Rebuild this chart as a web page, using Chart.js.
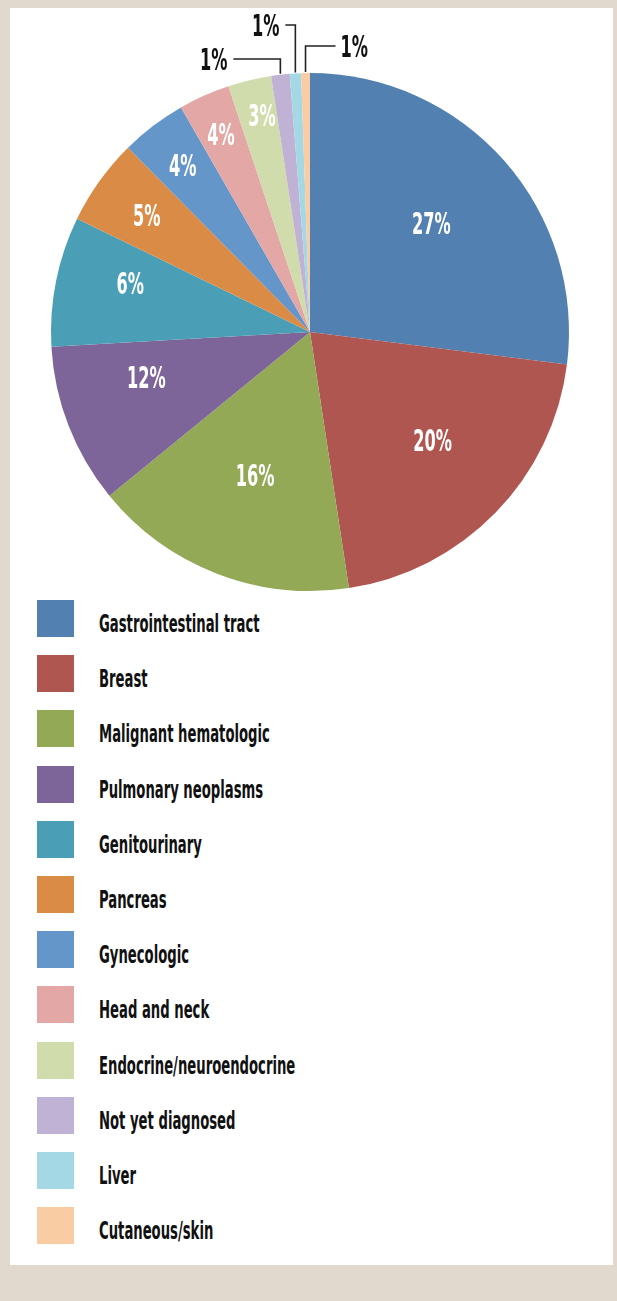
<!DOCTYPE html>
<html>
<head>
<meta charset="utf-8">
<script src="https://cdn.jsdelivr.net/npm/chart.js@4.4.1/dist/chart.umd.min.js"></script>
<style>
  html, body { margin:0; padding:0; background:#e1d9cd; width:617px; height:1301px; overflow:hidden; }
  #panel { position:absolute; left:10px; top:8px; width:603px; height:1257px; background:#ffffff; }
  #chart { position:absolute; left:0; top:0; }
  #legend { position:absolute; left:0; top:0; }
  .row { position:absolute; left:37px; height:37px; width:560px; }
  .sw { position:absolute; left:0; top:0; width:37px; height:37px; }
  .lt { position:absolute; left:62px; top:5px; line-height:37px;
        font-family:'DejaVu Sans Condensed','DejaVu Sans',sans-serif; font-weight:bold;
        font-size:25.5px; color:#111; white-space:nowrap;
        transform:scaleX(0.575); transform-origin:0 0; }
</style>
</head>
<body>
<div id="panel"></div>
<canvas id="chart" width="617" height="600"></canvas>
<div id="legend"></div>
<script>
// ---- data ----
const categories = [
  'Gastrointestinal tract', 'Breast', 'Malignant hematologic', 'Pulmonary neoplasms',
  'Genitourinary', 'Pancreas', 'Gynecologic', 'Head and neck',
  'Endocrine/neuroendocrine', 'Not yet diagnosed', 'Liver', 'Cutaneous/skin'
];
// slice sizes as drawn in the picture (percent of the circle)
const sliceShares = [27.0, 20.6, 16.5, 10.0, 8.1, 5.4, 4.1, 3.2, 2.7, 1.15, 0.7, 0.55];
// percentages printed on the chart
const percentLabels = ['27%', '20%', '16%', '12%', '6%', '5%', '4%', '4%', '3%', '1%', '1%', '1%'];

// ---- style ----
const colors = [
  '#5280b1', '#b05651', '#93a956', '#7d6499', '#4a9fb6', '#da8c46',
  '#6596c9', '#e3a7a5', '#d0dcab', '#bfb2d4', '#a4d8e4', '#f9cca3'
];
const labelFontSize = 31;
const labelFont = "bold " + labelFontSize + "px 'DejaVu Sans Condensed','DejaVu Sans',sans-serif";
const labelScaleX = 0.58;
const capRatio = 0.729;
// label placement tweaks (radius fraction / angular nudge in degrees)
const labelTweak = {
  0: { f: 0.63, da: -0.6 }, 1: { f: 0.63, da: -3 }, 2: { f: 0.59 },
  3: { f: 0.655, da: 6 }, 4: { da: 4 }, 8: { da: 1 }
};
// callout styling for the tiny slices (rise above pie top, horizontal run)
const calloutStyle = { 9: { rise: 14, run: -47 }, 10: { rise: 48, run: -10 }, 11: { rise: 27, run: 30 } };

function drawText(ctx, text, x, yCenter, align, color) {
  ctx.save();
  ctx.font = labelFont;
  ctx.fillStyle = color;
  ctx.textAlign = align;
  ctx.textBaseline = 'alphabetic';
  ctx.translate(x, yCenter + labelFontSize * capRatio / 2);
  ctx.scale(labelScaleX, 1);
  ctx.fillText(text, 0, 0);
  ctx.restore();
}

const pieLabels = {
  id: 'pieLabels',
  afterDatasetsDraw(chart) {
    const ctx = chart.ctx;
    const meta = chart.getDatasetMeta(0);
    meta.data.forEach((arc, i) => {
      const p = arc.getProps(['x', 'y', 'startAngle', 'endAngle', 'outerRadius'], true);
      const mid = (p.startAngle + p.endAngle) / 2;
      const R = p.outerRadius;
      const cs = calloutStyle[i];
      if (!cs) {
        const t = labelTweak[i] || {};
        const f = t.f !== undefined ? t.f : 0.6 + 0.38 * Math.exp(-sliceShares[i] / 7);
        const a = mid + (t.da || 0) * Math.PI / 180;
        const lx = p.x + Math.cos(a) * R * f;
        const ly = p.y + Math.sin(a) * R * f;
        drawText(ctx, percentLabels[i], lx, ly, 'center', '#ffffff');
      } else {
        const ex = p.x + Math.cos(mid) * R;
        const ey = p.y + Math.sin(mid) * R - 1;
        const elbowY = p.y - R - cs.rise;
        const endX = ex + cs.run;
        ctx.save();
        ctx.strokeStyle = '#222';
        ctx.lineWidth = 1.6;
        ctx.beginPath();
        ctx.moveTo(ex, ey);
        ctx.lineTo(ex, elbowY);
        ctx.lineTo(endX, elbowY);
        ctx.stroke();
        ctx.restore();
        if (cs.run < 0) drawText(ctx, percentLabels[i], endX - 6, elbowY, 'right', '#111');
        else drawText(ctx, percentLabels[i], endX + 5, elbowY, 'left', '#111');
      }
    });
  }
};

new Chart(document.getElementById('chart'), {
  type: 'pie',
  data: {
    labels: categories,
    datasets: [{ data: sliceShares, backgroundColor: colors, borderWidth: 0 }]
  },
  options: {
    responsive: false,
    animation: false,
    layout: { padding: { left: 51, right: 48, top: 73, bottom: 9 } },
    plugins: { legend: { display: false }, tooltip: { enabled: false } }
  },
  plugins: [pieLabels]
});

// ---- legend ----
const legend = document.getElementById('legend');
categories.forEach((name, i) => {
  const row = document.createElement('div');
  row.className = 'row';
  row.style.top = (600 + i * 55.2) + 'px';
  const sw = document.createElement('div');
  sw.className = 'sw';
  sw.style.background = colors[i];
  const lt = document.createElement('span');
  lt.className = 'lt';
  lt.textContent = name;
  row.appendChild(sw);
  row.appendChild(lt);
  legend.appendChild(row);
});
</script>
</body>
</html>
